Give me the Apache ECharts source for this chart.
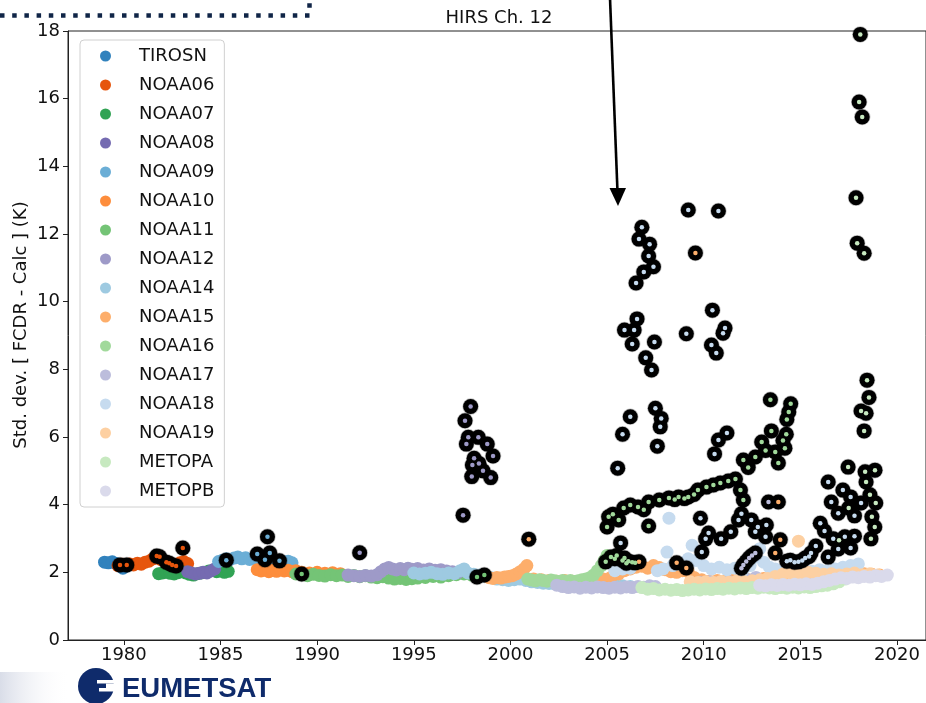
<!DOCTYPE html>
<html>
<head>
<meta charset="utf-8">
<script src="https://cdn.jsdelivr.net/npm/echarts@6/dist/echarts.min.js"></script>
<style>
  html, body { margin: 0; padding: 0; background: #fff; }
  #chart { width: 926px; height: 703px; }
</style>
</head>
<body>
<div id="chart"></div>
<script>
// Satellite names and their marker colours (tab20c)
const satellites = ['TIROSN', 'NOAA06', 'NOAA07', 'NOAA08', 'NOAA09', 'NOAA10', 'NOAA11', 'NOAA12',
  'NOAA14', 'NOAA15', 'NOAA16', 'NOAA17', 'NOAA18', 'NOAA19', 'METOPA', 'METOPB'];
const satColors = ['#3182bd', '#e6550d', '#31a354', '#756bb1', '#6baed6', '#fd8d3c', '#74c476', '#9e9ac8',
  '#9ecae1', '#fdae6b', '#a1d99b', '#bcbddc', '#c6dbef', '#fdd0a2', '#c7e9c0', '#dadaeb'];

// Tick labels
const xTicks = [1980, 1985, 1990, 1995, 2000, 2005, 2010, 2015, 2020];

// Std. dev. [FCDR - Calc] (K) per satellite: [decimal year, value]
const TIROSN = [[1979.0,2.30],[1979.2,2.28],[1979.4,2.31],[1979.6,2.26],[1979.8,2.20],[1979.95,2.12],[1980.1,2.18],[1980.3,2.22]];
const NOAA06 = [[1979.7,2.20],[1979.9,2.24],[1980.1,2.21],[1980.3,2.25],[1980.5,2.22],[1980.7,2.27],[1980.9,2.24],[1981.1,2.30],
  [1981.3,2.33],[1981.5,2.40],[1981.7,2.46],[1981.9,2.38],[1982.1,2.33],[1982.3,2.28],[1982.5,2.25],[1982.7,2.22],
  [1982.9,2.28],[1983.1,2.32],[1983.3,2.26]];
const NOAA07 = [[1981.8,1.96],[1982.0,1.98],[1982.2,2.00],[1982.4,1.97],[1982.6,1.95],[1982.8,1.99],[1983.0,2.02],[1983.2,1.98],
  [1983.4,1.94],[1983.6,1.92],[1983.8,1.96],[1984.0,1.98],[1984.2,2.00],[1984.4,2.04],[1984.6,2.06],[1984.8,2.02],
  [1985.0,2.04],[1985.2,2.00],[1985.4,2.03]];
const NOAA08 = [[1983.3,2.02],[1983.5,1.98],[1983.7,1.95],[1983.9,1.97],[1984.1,2.00],[1984.3,1.98],[1984.5,2.04],[1984.7,2.10]];
const NOAA09 = [[1984.9,2.32],[1985.1,2.36],[1985.3,2.40],[1985.5,2.38],[1985.7,2.42],[1985.9,2.45],[1986.1,2.40],[1986.3,2.43],
  [1986.5,2.38],[1986.7,2.42],[1986.9,2.36],[1987.1,2.40],[1987.3,2.34],[1987.5,2.38],[1987.7,2.35],[1987.9,2.31],
  [1988.1,2.34],[1988.3,2.30],[1988.5,2.33],[1988.7,2.28]];
const NOAA10 = [[1986.9,2.08],[1987.1,2.04],[1987.3,2.07],[1987.5,2.02],[1987.7,2.06],[1987.9,2.03],[1988.1,2.07],[1988.3,2.04],
  [1988.5,2.06],[1988.7,2.02],[1988.9,2.05],[1989.2,2.00],[1989.6,1.98],[1990.0,2.00],[1990.4,1.97],[1990.8,1.99],[1991.2,1.96]];
const NOAA11 = [[1988.9,1.95],[1989.2,1.93],[1989.5,1.90],[1989.8,1.94],[1990.1,1.91],[1990.4,1.89],[1990.7,1.93],[1991.0,1.90],
  [1991.3,1.92],[1991.6,1.88],[1991.9,1.91],[1992.2,1.87],[1992.5,1.90],[1992.8,1.86],[1993.1,1.84],[1993.4,1.87],
  [1993.7,1.83],[1994.0,1.80],[1994.3,1.82],[1994.6,1.79],[1994.9,1.81],[1995.2,1.83],[1995.6,1.85],[1996.0,1.88],
  [1996.4,1.86],[1996.8,1.90],[1997.2,1.93],[1997.6,1.95],[1998.0,1.92]];
const NOAA12 = [[1991.6,1.92],[1991.9,1.90],[1992.2,1.88],[1992.5,1.91],[1992.8,1.89],[1993.1,1.93],[1993.3,2.02],[1993.5,2.10],
  [1993.7,2.14],[1993.9,2.10],[1994.1,2.07],[1994.3,2.11],[1994.5,2.08],[1994.7,2.12],[1994.9,2.09],[1995.2,2.11],
  [1995.5,2.07],[1995.8,2.10],[1996.1,2.06],[1996.4,2.08],[1996.7,2.04],[1997.0,2.02],[1997.3,2.00]];
const NOAA14 = [[1995.0,1.98],[1995.3,1.95],[1995.6,1.97],[1995.9,2.00],[1996.2,1.96],[1996.5,1.94],[1996.8,1.98],[1997.1,1.96],
  [1997.4,2.05],[1997.6,2.10],[1997.8,1.98],[1998.1,1.94],[1998.4,1.92],[1998.7,1.88],[1999.0,1.84],[1999.3,1.80],
  [1999.6,1.78],[1999.9,1.76],[2000.2,1.78],[2000.5,1.80],[2000.8,1.76],[2001.1,1.72],[2001.4,1.70],[2001.7,1.68],
  [2002.0,1.67],[2002.3,1.66],[2002.6,1.65],[2002.9,1.63],[2003.2,1.62],[2003.5,1.61],[2003.8,1.60],[2004.1,1.59],
  [2004.4,1.58],[2004.7,1.60],[2005.0,1.58],[2005.4,1.62],[2005.8,1.60],[2006.2,1.58]];
const NOAA15 = [[1998.9,1.84],[1999.1,1.82],[1999.3,1.85],[1999.5,1.83],[1999.7,1.86],[1999.9,1.88],[2000.1,1.90],[2000.3,1.95],
  [2000.5,2.02],[2000.7,2.10],[2000.85,2.20],[2001.2,1.80],[2001.6,1.78],[2002.0,1.76],[2002.4,1.74],[2002.8,1.76],
  [2003.2,1.74],[2003.6,1.72],[2004.0,1.75],[2004.4,1.78],[2004.8,1.80],[2005.2,1.85],[2005.6,1.95],[2005.9,2.05],
  [2006.2,2.10],[2006.5,2.15],[2006.8,2.18],[2007.1,2.12],[2007.4,2.20],[2007.7,2.14],[2008.0,2.08],[2008.3,2.02],
  [2008.6,2.00],[2008.9,2.05],[2009.2,2.02],[2009.5,1.85],[2009.9,1.78],[2010.3,1.74],[2010.7,1.76],[2011.1,1.74],
  [2011.5,1.78],[2011.9,1.76],[2012.3,1.78],[2012.7,1.80],[2013.1,1.82],[2013.5,1.85],[2013.9,1.90],[2014.3,1.95],
  [2014.7,1.92],[2015.1,1.90],[2015.5,1.94],[2015.9,1.92],[2016.3,1.96],[2016.7,1.94],[2017.1,1.97],[2017.5,1.95],
  [2017.9,1.93],[2018.3,1.96],[2018.7,1.94],[2019.1,1.92]];
const NOAA16 = [[2000.9,1.80],[2001.1,1.77],[2001.3,1.75],[2001.5,1.78],[2001.7,1.76],[2001.9,1.74],[2002.1,1.77],[2002.3,1.75],
  [2002.5,1.73],[2002.7,1.76],[2002.9,1.74],[2003.1,1.76],[2003.3,1.73],[2003.5,1.75],[2003.7,1.78],[2003.9,1.80],
  [2004.1,1.84],[2004.3,1.92],[2004.5,2.05],[2004.7,2.20],[2004.85,2.35],[2005.0,2.50]];
const NOAA17 = [[2002.4,1.62],[2002.7,1.58],[2003.0,1.55],[2003.3,1.57],[2003.6,1.53],[2003.9,1.56],[2004.2,1.54],[2004.5,1.57],
  [2004.8,1.55],[2005.1,1.53],[2005.4,1.56],[2005.7,1.54],[2006.0,1.57],[2006.3,1.55],[2006.6,1.58],[2006.9,1.56],
  [2007.2,1.60],[2007.5,1.58],[2009.8,1.70],[2010.3,1.72],[2010.8,1.70],[2011.3,1.73],[2011.8,1.75],[2012.3,1.78],[2012.7,1.85]];
const NOAA18 = [[2005.4,2.05],[2005.6,2.15],[2005.8,2.10],[2006.0,2.18],[2006.2,2.12],[2007.6,2.05],[2007.9,2.10],[2008.1,2.60],
  [2008.2,3.60],[2008.4,2.20],[2008.7,2.25],[2009.0,2.30],[2009.2,2.40],[2009.4,2.80],[2009.6,2.35],[2010.0,2.20],
  [2010.4,2.10],[2010.8,2.15],[2011.2,2.08],[2011.6,2.12],[2012.0,2.05],[2012.4,2.20],[2012.7,2.45],[2012.9,2.70],
  [2013.1,2.30],[2013.4,2.15],[2013.7,2.10],[2014.0,2.05],[2014.4,2.08],[2014.8,2.02],[2015.2,2.06],[2015.6,2.03],
  [2016.0,2.08],[2016.4,2.05],[2016.8,2.10],[2017.2,2.15],[2017.6,2.20],[2018.0,2.25]];
const NOAA19 = [[2009.3,1.72],[2009.7,1.70],[2010.1,1.72],[2010.5,1.70],[2010.9,1.73],[2011.3,1.71],[2011.7,1.74],[2012.1,1.72],
  [2012.5,1.75],[2012.9,1.78],[2013.3,1.82],[2013.7,1.88],[2014.1,1.95],[2014.5,1.98],[2014.9,2.92],[2015.0,1.96],
  [2015.4,2.00],[2015.8,1.97],[2016.2,1.94],[2016.6,1.96],[2017.0,1.92],[2017.4,1.95],[2017.8,1.98],[2018.2,1.93],
  [2018.6,1.96],[2019.0,1.92]];
const METOPA = [[2006.8,1.55],[2007.1,1.50],[2007.4,1.52],[2007.7,1.48],[2008.0,1.50],[2008.3,1.47],[2008.6,1.49],[2008.9,1.46],
  [2009.2,1.48],[2009.5,1.50],[2009.8,1.48],[2010.1,1.51],[2010.4,1.49],[2010.7,1.52],[2011.0,1.50],[2011.3,1.53],
  [2011.6,1.51],[2011.9,1.54],[2012.2,1.52],[2012.5,1.55],[2012.8,1.53],[2013.1,1.56],[2013.4,1.54],[2013.7,1.52],
  [2014.0,1.55],[2014.3,1.53],[2014.6,1.56],[2014.9,1.54],[2015.2,1.57],[2015.5,1.55],[2015.8,1.58],[2016.1,1.60],
  [2016.4,1.62],[2016.7,1.66],[2017.0,1.72],[2017.3,1.80]];
const METOPB = [[2012.9,1.62],[2013.2,1.60],[2013.5,1.63],[2013.8,1.61],[2014.1,1.64],[2014.4,1.62],[2014.7,1.65],[2015.0,1.63],
  [2015.3,1.66],[2015.6,1.64],[2015.9,1.68],[2016.2,1.72],[2016.5,1.76],[2016.8,1.80],[2017.1,1.84],[2017.4,1.82],
  [2017.7,1.86],[2018.0,1.84],[2018.3,1.88],[2018.6,1.86],[2018.9,1.90],[2019.2,1.88],[2019.5,1.92]];

// Flagged samples (drawn as black rings, centre dot in the satellite colour)
const flaggedNOAA06 = [[1979.8,2.22],[1980.15,2.22],[1981.7,2.48],[1981.85,2.46],[1982.2,2.30],[1982.35,2.27],
  [1982.5,2.22],[1982.7,2.19],[1983.05,2.72]];
const flaggedNOAA09 = [[1985.3,2.36],[1986.9,2.54],[1987.3,2.37],[1987.43,3.05],[1987.55,2.57],[1988.05,2.34]];
const flaggedNOAA11 = [[1989.2,1.95],[1998.27,1.86],[1998.65,1.92]];
const flaggedNOAA12 = [[1992.2,2.58],[1997.94,6.90],[1997.65,6.48],[1997.82,5.99],[1998.34,5.99],[1997.72,5.79],
  [1998.8,5.79],[1999.1,5.44],[1998.12,5.37],[1998.37,5.22],[1998.03,5.17],[1998.58,5.0],[1998.0,4.83],[1998.98,4.80],
  [1997.55,3.69]];
const flaggedNOAA15 = [[2000.95,2.98],[2009.57,11.44],[2006.65,2.31],[2008.6,2.28],[2009.1,2.13],[2013.96,2.96],
  [2013.7,2.57],[2013.86,4.08]];
const flaggedNOAA16 = [[2004.93,2.31],[2005.0,3.34],[2005.08,3.64],[2005.3,3.72],[2005.6,3.55],[2005.86,3.90],
  [2006.2,3.99],[2006.6,3.93],[2006.9,3.85],[2007.15,4.08],[2007.15,3.37],[2007.7,4.14],[2008.2,4.20],[2008.5,4.15],
  [2008.7,4.23],[2009.0,4.18],[2009.2,4.23],[2009.5,4.30],[2009.7,4.43],[2010.14,4.52],[2010.5,4.58],[2010.86,4.64],
  [2011.27,4.70],[2011.64,4.76],[2011.9,4.43],[2012.05,4.14],[2012.05,5.32],[2012.3,5.10],[2012.67,5.41],[2013.0,5.85],
  [2013.2,5.60],[2013.45,7.10],[2013.5,6.18],[2013.7,5.56],[2013.86,5.23],[2014.2,5.67],[2014.27,6.08],[2014.3,6.52],
  [2014.4,6.74],[2014.5,6.98],[2014.1,5.90],[2005.5,2.50],[2005.8,2.35],[2006.0,2.27],[2006.3,2.30],
  [2005.2,2.45],[2005.4,2.40],[2005.9,2.42],[2006.1,2.33],[2006.45,2.28]];
const flaggedNOAA17 = [[2011.95,2.12],[2012.05,2.22],[2012.2,2.32],[2012.35,2.42],[2012.5,2.50],[2012.67,2.57],
  [2013.35,4.08]];
const flaggedNOAA18 = [[2009.2,12.71],[2010.76,12.68],[2006.8,12.2],[2006.65,11.85],[2007.2,11.7],[2007.15,11.35],
  [2007.4,11.03],[2006.9,10.88],[2006.5,10.55],[2010.45,9.75],[2011.1,9.22],[2011.0,9.07],[2009.1,9.05],[2006.55,9.49],
  [2005.9,9.16],[2006.4,9.16],[2006.3,8.75],[2007.45,8.81],[2007.0,8.34],[2007.3,7.98],[2010.4,8.72],[2010.65,8.48],
  [2006.2,6.6],[2007.5,6.85],[2007.75,6.3],[2007.8,6.55],[2005.8,6.08],[2007.6,5.73],[2005.55,5.08],
  [2011.2,6.12],[2010.76,5.91],[2010.56,5.5],
  [2005.7,2.87],[2009.83,3.6],[2010.1,2.99],[2009.9,2.6],[2010.25,3.16],[2010.9,2.99],[2011.4,3.2],[2011.8,3.55],
  [2011.95,3.73],[2012.46,3.55],[2012.8,3.34],[2013.24,3.4],[2013.2,3.05],[2012.67,3.2],
  [2014.3,2.33],[2014.48,2.36],[2014.7,2.30],[2014.9,2.31],[2015.1,2.35],[2015.25,2.42],[2015.45,2.47],[2015.55,2.57],
  [2015.8,2.78],[2016.03,3.45],[2016.25,3.22],[2016.44,2.45],[2016.44,4.67],[2016.6,4.08],[2016.7,2.99],[2016.96,3.75],
  [2016.96,2.69],[2017.2,4.43],[2017.3,3.05],[2017.6,4.23],[2017.6,2.72],[2017.8,3.67],[2017.8,3.07],[2018.14,4.05]];
const flaggedMETOPA = [[2017.47,5.11],[2018.1,17.9],[2018.04,15.9],[2018.2,15.46],[2017.88,13.07],[2017.94,11.73],
  [2018.3,11.43],[2018.45,7.68],[2018.55,7.17],[2018.14,6.77],[2018.4,6.7],[2018.3,6.18],[2018.35,4.97],[2018.86,5.02],
  [2018.4,4.67],[2018.6,4.29],[2018.9,4.05],[2018.7,3.64],[2018.85,3.34],[2018.65,2.99],[2017.0,2.95],[2017.5,3.9]];

const baseSeriesData = [TIROSN, NOAA06, NOAA07, NOAA08, NOAA09, NOAA10, NOAA11, NOAA12,
  NOAA14, NOAA15, NOAA16, NOAA17, NOAA18, NOAA19, METOPA, METOPB];
const flaggedBySat = {
  NOAA06: flaggedNOAA06, NOAA09: flaggedNOAA09, NOAA11: flaggedNOAA11, NOAA12: flaggedNOAA12,
  NOAA15: flaggedNOAA15, NOAA16: flaggedNOAA16, NOAA17: flaggedNOAA17, NOAA18: flaggedNOAA18, METOPA: flaggedMETOPA
};

const FONT = 'DejaVu Sans';
const series = [];

satellites.forEach((name, i) => {
  series.push({
    type: 'scatter', name: name, data: baseSeriesData[i], symbolSize: 13, z: 2,
    itemStyle: { color: satColors[i], opacity: 1 }, emphasis: { disabled: true }
  });
});

// black rings for flagged samples
let allFlagged = [];
Object.keys(flaggedBySat).forEach(k => { allFlagged = allFlagged.concat(flaggedBySat[k]); });
series.push({
  type: 'scatter', name: 'flagged', data: allFlagged, symbolSize: 15, z: 3,
  itemStyle: { color: '#000', opacity: 1, borderColor: 'rgba(0,0,0,0.25)', borderWidth: 1.5 },
  emphasis: { disabled: true }
});

// coloured centres of the flagged samples
Object.keys(flaggedBySat).forEach(k => {
  const idx = satellites.indexOf(k);
  series.push({
    type: 'scatter', name: k, data: flaggedBySat[k], symbolSize: 4.5, z: 4,
    itemStyle: { color: satColors[idx], opacity: 1 }, emphasis: { disabled: true }
  });
});

const chart = echarts.init(document.getElementById('chart'), null, { renderer: 'canvas' });

chart.setOption({
  animation: false,
  backgroundColor: '#fff',
  grid: { left: 68, right: -2, top: 31, bottom: 63, show: true, borderColor: '#222', borderWidth: 1, backgroundColor: 'transparent' },
  xAxis: {
    type: 'value', min: 1977.11, max: 2021.5,
    splitLine: { show: false },
    axisLine: { show: true, lineStyle: { color: '#222', width: 1 } },
    axisTick: { show: true, inside: false, length: 5, customValues: xTicks, lineStyle: { color: '#222' } },
    axisLabel: { customValues: xTicks, formatter: v => String(Math.round(v)), fontFamily: FONT, fontSize: 18, color: '#111', margin: 6 }
  },
  yAxis: {
    type: 'value', min: 0, max: 18, interval: 2,
    splitLine: { show: false },
    axisLine: { show: true, lineStyle: { color: '#222', width: 1 } },
    axisTick: { show: true, inside: false, length: 5, lineStyle: { color: '#222' } },
    axisLabel: { fontFamily: FONT, fontSize: 18, color: '#111', margin: 8 }
  },
  legend: {
    data: satellites,
    orient: 'vertical',
    left: 80, top: 40,
    padding: [7, 10, 7, 20],
    itemWidth: 17, itemHeight: 11, itemGap: 11,
    icon: 'circle',
    backgroundColor: 'rgba(255,255,255,0.85)',
    borderColor: '#d0d0d0', borderWidth: 1, borderRadius: 4,
    textStyle: { fontFamily: FONT, fontSize: 18, color: '#111', lineHeight: 18, padding: [0, 0, 0, 20] },
    selectedMode: false
  },
  series: series,
  graphic: [
    // bottom-left shading
    { type: 'rect', shape: { x: 0, y: 672, width: 70, height: 31 }, z: 0,
      style: { fill: new echarts.graphic.LinearGradient(0, 0, 1, 0, [
        { offset: 0, color: '#d9dde8' }, { offset: 1, color: 'rgba(255,255,255,0)' }]) } },
    // dotted frame at top-left
    { type: 'polyline', shape: { points: [[0, 15.5], [309.5, 15.5], [309.5, -2]] }, z: 10,
      style: { stroke: '#102547', lineWidth: 4.5, lineDash: [4.5, 7.7], fill: null } },
    // title
    { type: 'text', x: 499, y: 18, z: 10,
      style: { text: 'HIRS Ch. 12', font: '18px "DejaVu Sans"', fill: '#111', align: 'center', verticalAlign: 'middle' } },
    // y-axis title
    { type: 'text', x: 21, y: 325, rotation: Math.PI / 2, z: 10,
      style: { text: 'Std. dev. [ FCDR - Calc ] (K)', font: '18px "DejaVu Sans"', fill: '#111', align: 'center', verticalAlign: 'middle' } },
    // arrow
    { type: 'line', shape: { x1: 610, y1: -2, x2: 617.5, y2: 192 }, z: 10,
      style: { stroke: '#000', lineWidth: 2.6 } },
    { type: 'polygon', shape: { points: [[609.5, 188], [626, 188], [618, 206]] }, z: 10,
      style: { fill: '#000' } },
    // logo emblem
    { type: 'circle', shape: { cx: 96, cy: 686, r: 18 }, z: 10, style: { fill: '#0f2b6b' } },
    { type: 'rect', shape: { x: 97, y: 680, width: 20, height: 3.5 }, z: 11, style: { fill: '#fff' } },
    { type: 'rect', shape: { x: 99, y: 688, width: 18, height: 3.5 }, z: 11, style: { fill: '#fff' } },
    { type: 'rect', shape: { x: 106, y: 683.5, width: 12, height: 4.5 }, z: 11, style: { fill: '#fff' } },
    // logo text
    { type: 'text', x: 122, y: 689, z: 10,
      style: { text: 'EUMETSAT', font: 'bold 27.5px "Liberation Sans"', fill: '#0f2b6b', align: 'left', verticalAlign: 'middle' } }
  ]
});
</script>
</body>
</html>
